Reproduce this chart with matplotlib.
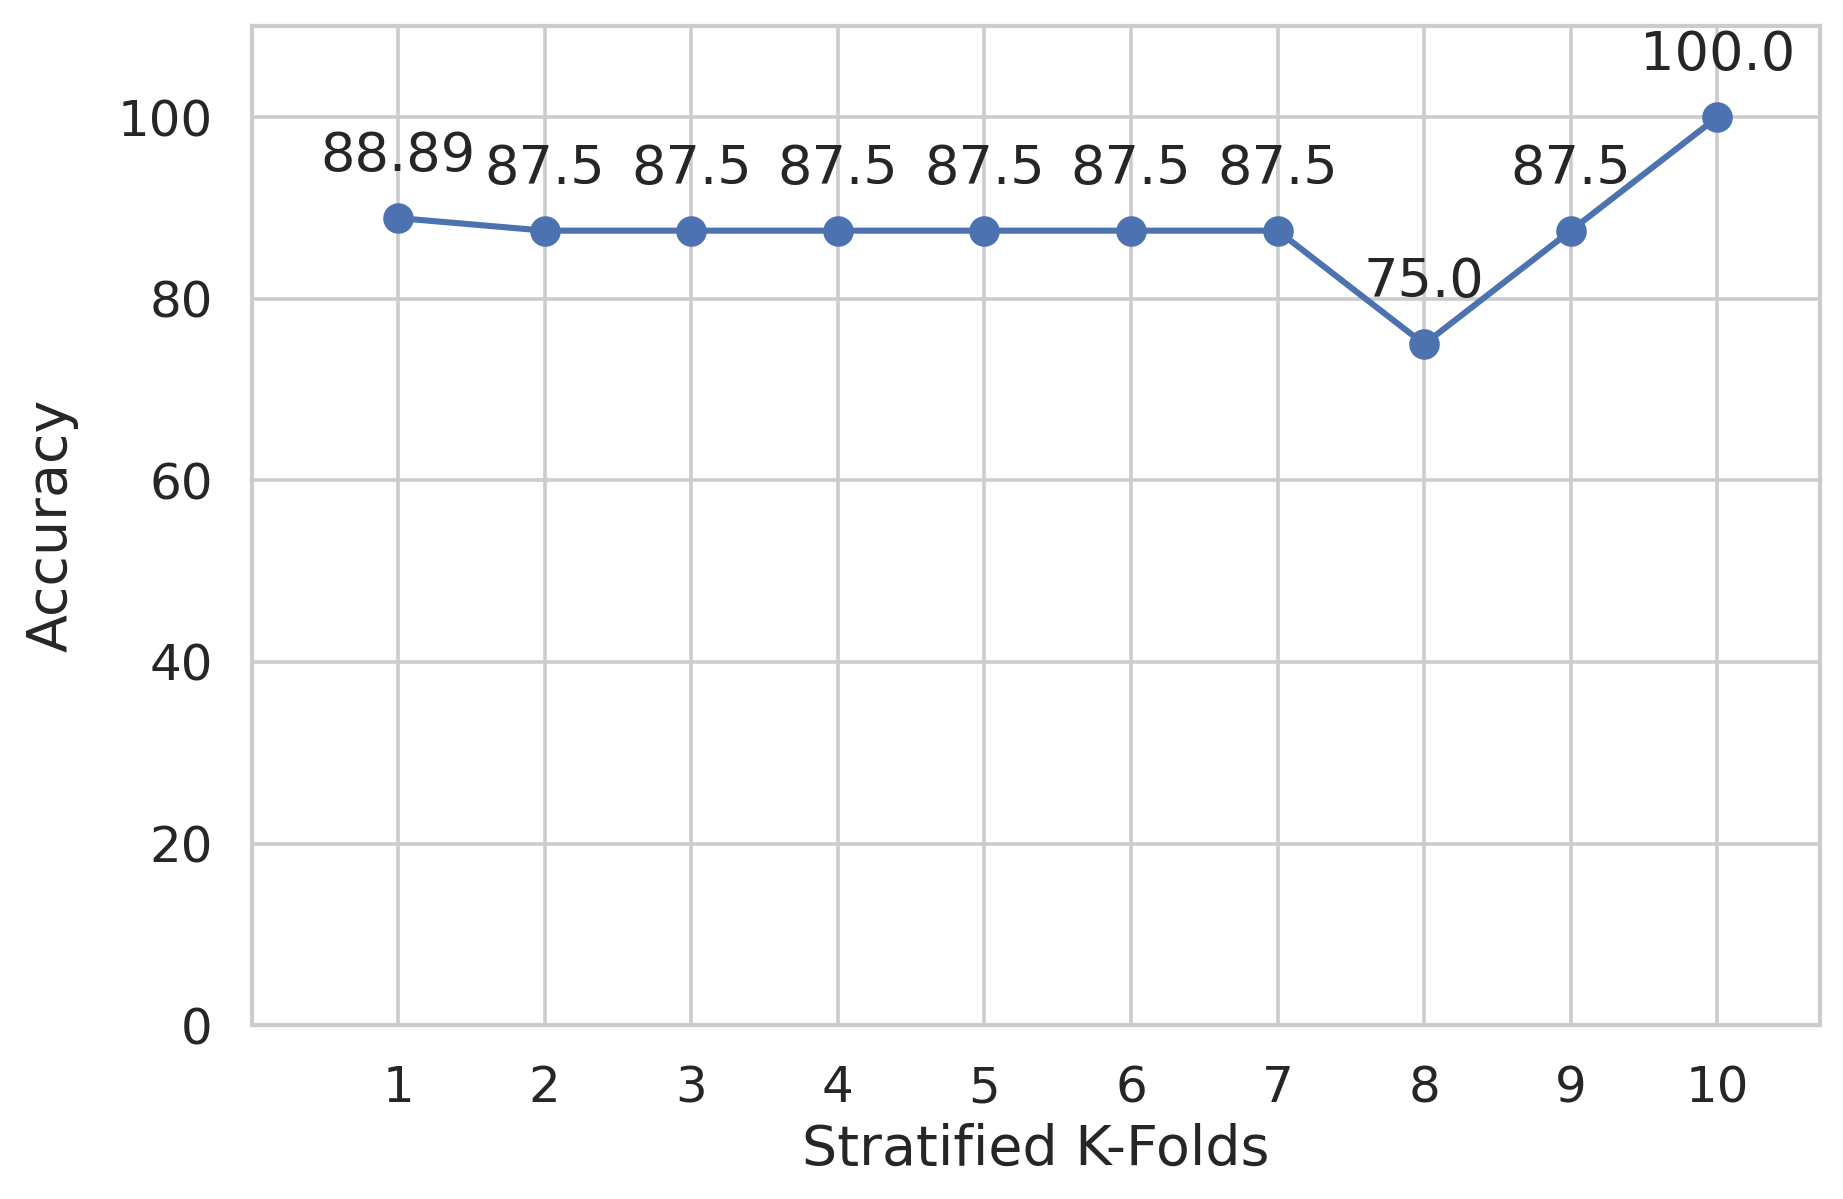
import matplotlib
matplotlib.use("Agg")
import matplotlib.pyplot as plt
import seaborn as sns

folds = [1, 2, 3, 4, 5, 6, 7, 8, 9, 10]
accuracy = [88.89, 87.5, 87.5, 87.5, 87.5, 87.5, 87.5, 75.0, 87.5, 100.0]
labels = ["88.89", "87.5", "87.5", "87.5", "87.5", "87.5", "87.5", "75.0", "87.5", "100.0"]

sns.set_theme(style="whitegrid")
plt.rcParams['font.family'] = ['DejaVu Sans']
plt.rcParams['text.color'] = '#262626'

fig = plt.figure(figsize=(1843/200, 1199/200), dpi=200)
ax = fig.add_axes([0.1365, 0.145, 0.851, 0.833])

ax.plot(folds, accuracy, color='#4C72B0', marker='o', markersize=10, linewidth=2.2)
for x, y, t in zip(folds, accuracy, labels):
    ax.annotate(t, (x, y), xytext=(0, 13), textcoords='offset points',
                ha='center', va='bottom', fontsize=19.5, color='#262626')

ax.set_xlim(0, 10.7)
ax.set_ylim(0, 110)
ax.set_xticks(folds)
ax.set_yticks([0, 20, 40, 60, 80, 100])
ax.tick_params(axis='both', labelsize=18, colors='#262626', pad=8)
ax.set_xlabel('Stratified K-Folds', fontsize=20, color='#262626', labelpad=4)
ax.set_ylabel('Accuracy', fontsize=20, color='#262626', labelpad=14)
ax.grid(True, color='#cccccc', linewidth=1.3)
for s in ax.spines.values():
    s.set_color('#cccccc')
    s.set_linewidth(1.5)

fig.savefig('out.png', dpi=200)
